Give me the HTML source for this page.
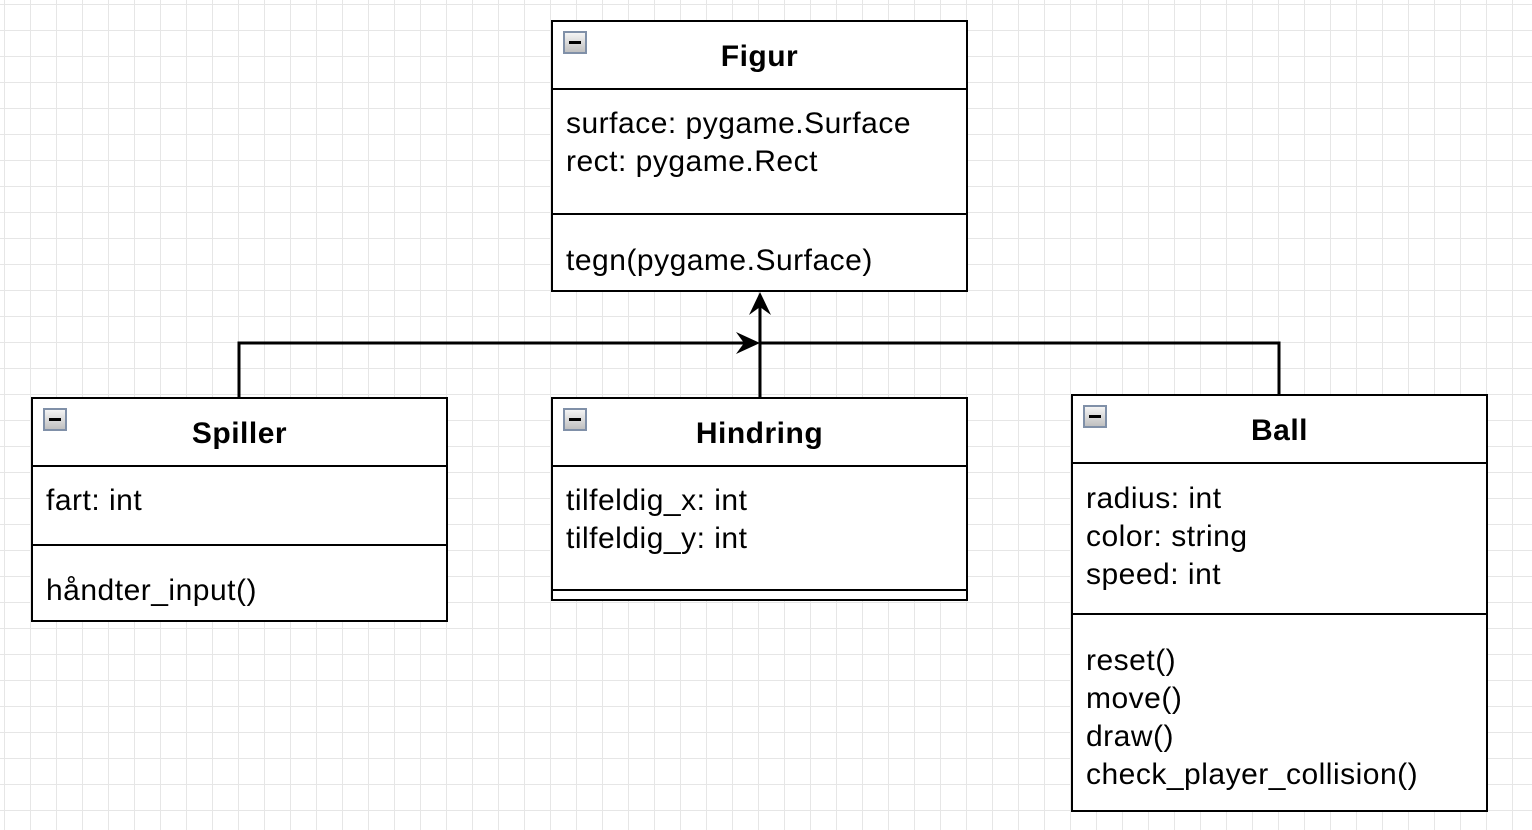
<!DOCTYPE html>
<html><head><style>
html,body{margin:0;padding:0}
body{width:1532px;height:830px;position:relative;overflow:hidden;background:#fff;
background-image:linear-gradient(#e6e6e6 1px,transparent 1px),linear-gradient(90deg,#e6e6e6 1px,transparent 1px);
background-size:26px 26px;background-position:4px 4px;font-family:"Liberation Sans",Arial,sans-serif;}
.box{position:absolute;border:2px solid #000;background:#fff;box-sizing:border-box}
.hd{position:absolute;left:0;right:0;top:0;border-bottom:2px solid #000;font-weight:bold;font-size:30px;letter-spacing:0.5px;text-align:center;box-sizing:border-box}
.ic{position:absolute;left:10px;top:9px;width:24px;height:23px;background:linear-gradient(#f4f4f4,#c0c0c0);border:2px solid #8090a8;box-sizing:border-box}
.ic:after{content:"";position:absolute;left:4px;right:4px;top:8px;height:3px;background:#000}
.tx{position:absolute;left:13px;font-size:30px;letter-spacing:0.5px;line-height:38px;white-space:pre}
.dv{position:absolute;left:0;right:0;height:2px;background:#000}
</style></head><body>
<svg style="position:absolute;left:0;top:0" width="1532" height="830">
<g stroke="#000" stroke-width="3" fill="none">
<polyline points="239,398 239,343 748,343"/>
<polyline points="1279,395 1279,343 760,343"/>
<line x1="760" y1="398" x2="760" y2="305"/>
</g>
<polygon points="760,292 749,315 760,307 771,315" fill="#000"/>
<polygon points="760,343 736,332 744,343 736,354" fill="#000"/>
</svg>

<div class="box" style="left:551px;top:20px;width:417px;height:272px">
<div class="hd" style="height:68px;line-height:70px">Figur</div><div class="ic"></div>
<div class="tx" style="top:83px">surface: pygame.Surface
rect: pygame.Rect</div>
<div class="dv" style="top:191px"></div>
<div class="tx" style="top:220px">tegn(pygame.Surface)</div>
</div>

<div class="box" style="left:31px;top:397px;width:417px;height:225px">
<div class="hd" style="height:68px;line-height:70px">Spiller</div><div class="ic"></div>
<div class="tx" style="top:83px">fart: int</div>
<div class="dv" style="top:145px"></div>
<div class="tx" style="top:173px">håndter_input()</div>
</div>

<div class="box" style="left:551px;top:397px;width:417px;height:204px">
<div class="hd" style="height:68px;line-height:70px">Hindring</div><div class="ic"></div>
<div class="tx" style="top:83px">tilfeldig_x: int
tilfeldig_y: int</div>
<div class="dv" style="top:190px"></div>
</div>

<div class="box" style="left:1071px;top:394px;width:417px;height:418px">
<div class="hd" style="height:68px;line-height:70px">Ball</div><div class="ic"></div>
<div class="tx" style="top:84px">radius: int
color: string
speed: int</div>
<div class="dv" style="top:217px"></div>
<div class="tx" style="top:246px">reset()
move()
draw()
check_player_collision()</div>
</div>
</body></html>
